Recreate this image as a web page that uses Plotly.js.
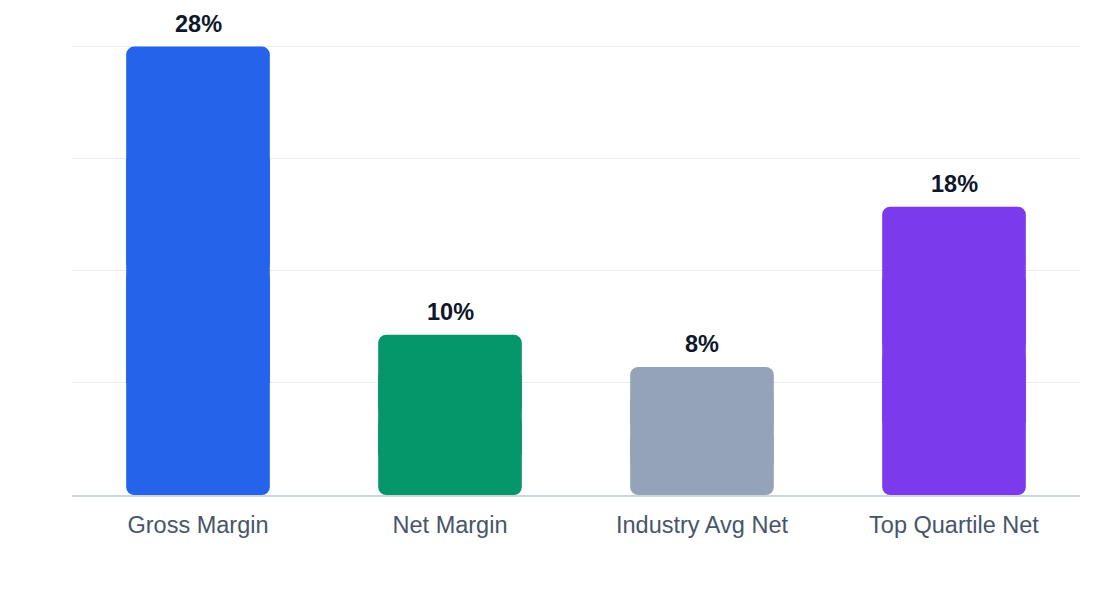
<!DOCTYPE html>
<html>
<head>
<meta charset="utf-8">
<script src="https://cdn.plot.ly/plotly-3.1.0.min.js"></script>
<style>
  html, body { margin: 0; padding: 0; background: #fff; }
  #chart { width: 1120px; height: 600px; }
</style>
</head>
<body>
<div id="chart"></div>
<script>
const categories = ["Gross Margin", "Net Margin", "Industry Avg Net", "Top Quartile Net"];
const marginPct = [28, 10, 8, 18];
const barColors = ["#2563eb", "#059669", "#94a3b8", "#7c3aed"];

const FONT = "Liberation Sans, Arial, Helvetica, sans-serif";
const BAR_W = 0.57;

// bars are drawn as two rounded halves plus a square middle piece,
// so that both the top and the bottom corners come out rounded
const half = marginPct.map(v => v / 2);
const negHalf = marginPct.map(v => -v / 2);
const quarter = marginPct.map(v => v / 4);

const upper = {
  type: "bar", x: categories, y: half, base: half, width: BAR_W,
  marker: { color: barColors, cornerradius: 8 }, hoverinfo: "skip"
};
const lower = {
  type: "bar", x: categories, y: negHalf, base: half, width: BAR_W,
  marker: { color: barColors, cornerradius: 8 }, hoverinfo: "skip"
};
const middle = {
  type: "bar", x: categories, y: half, base: quarter, width: BAR_W,
  marker: { color: barColors }, hoverinfo: "skip"
};

const labels = categories.map((c, i) => ({
  x: c,
  y: marginPct[i],
  text: "<b>" + marginPct[i] + "%</b>",
  showarrow: false,
  yanchor: "bottom",
  yshift: 8,
  font: { family: FONT, size: 23.5, color: "#0f172a" }
}));

const layout = {
  width: 1120,
  height: 600,
  margin: { l: 72, r: 40, t: 45, b: 105 },
  paper_bgcolor: "#ffffff",
  plot_bgcolor: "#ffffff",
  showlegend: false,
  barmode: "overlay",
  font: { family: FONT },
  annotations: labels,
  xaxis: {
    type: "category",
    showgrid: false,
    showline: true,
    linecolor: "#cbd5e1",
    linewidth: 2,
    ticks: "",
    ticklabelstandoff: 8,
    tickfont: { family: FONT, size: 23.5, color: "#475569" },
    fixedrange: true
  },
  yaxis: {
    range: [0, 28.1],
    tick0: 0,
    dtick: 7,
    showticklabels: false,
    showgrid: true,
    gridcolor: "#e9ecf1",
    gridwidth: 1,
    zeroline: false,
    fixedrange: true
  }
};

Plotly.newPlot("chart", [lower, upper, middle], layout, { displayModeBar: false, staticPlot: true });
</script>
</body>
</html>
